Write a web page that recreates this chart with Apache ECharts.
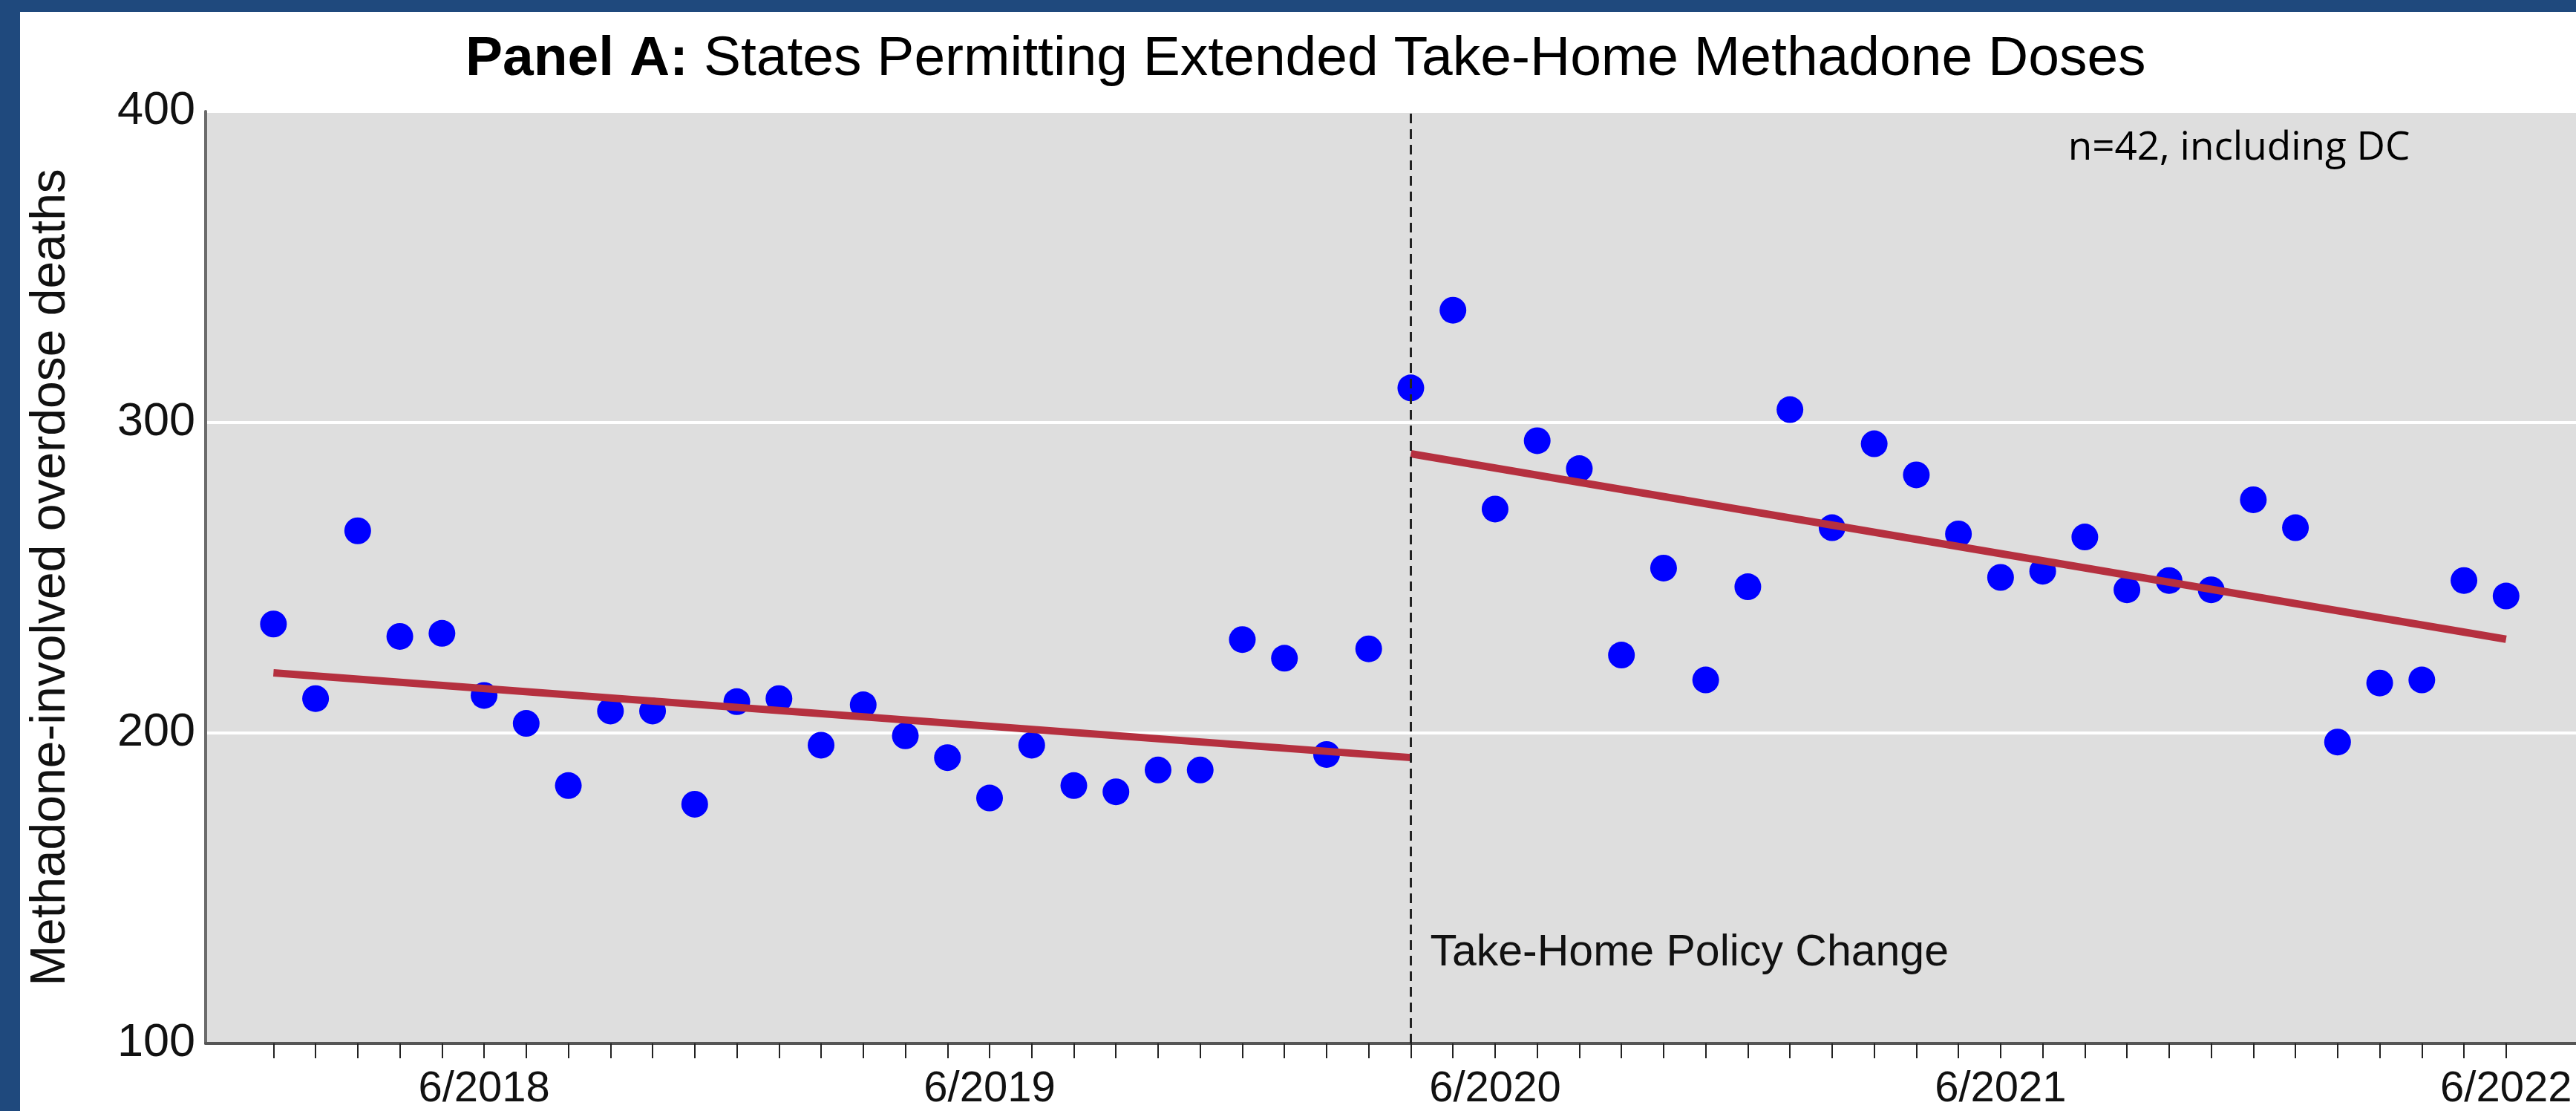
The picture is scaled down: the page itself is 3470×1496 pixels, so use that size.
<!DOCTYPE html>
<html>
<head>
  <meta charset="utf-8">
  <title>Panel A</title>
  <script src="https://cdn.jsdelivr.net/npm/echarts@6/dist/echarts.min.js"></script>
  <style>
    body { margin: 0; background: #1f497d; width: 3470px; height: 1496px; overflow: hidden; }
    #main { position: absolute; left: 27px; top: 16px; width: 3443px; height: 1480px; background: #fff; }
  </style>
</head>
<body>
  <div id="main"></div>
  <script type="text/javascript">
    // monthly observations, 1/2018 .. 6/2022
    var months = [
      '1/2018', '2/2018', '3/2018', '4/2018', '5/2018', '6/2018', '7/2018', '8/2018', '9/2018', '10/2018', '11/2018', '12/2018',
      '1/2019', '2/2019', '3/2019', '4/2019', '5/2019', '6/2019', '7/2019', '8/2019', '9/2019', '10/2019', '11/2019', '12/2019',
      '1/2020', '2/2020', '3/2020', '4/2020', '5/2020', '6/2020', '7/2020', '8/2020', '9/2020', '10/2020', '11/2020', '12/2020',
      '1/2021', '2/2021', '3/2021', '4/2021', '5/2021', '6/2021', '7/2021', '8/2021', '9/2021', '10/2021', '11/2021', '12/2021',
      '1/2022', '2/2022', '3/2022', '4/2022', '5/2022', '6/2022'
    ];
    var deaths = [
      235, 211, 265, 231, 232, 212, 203, 183, 207, 207, 177, 210,
      211, 196, 209, 199, 192, 179, 196, 183, 181, 188, 188, 230,
      224, 193, 227, 311, 336, 272, 294, 285, 225, 253, 217, 247,
      304, 266, 293, 283, 264, 250, 252, 263, 246, 249, 246, 275,
      266, 197, 216, 217, 249, 244
    ];
    var tickLabels = ['6/2018', '6/2019', '6/2020', '6/2021', '6/2022'];
    var policyMonth = '4/2020';
    // fitted trend, value at start and end of each period
    var preTrend = [219.3, 192.0];
    var postTrend = [289.8, 230.1];

    var font = 'Liberation Sans, Arial, sans-serif';
    var iPolicy = months.indexOf(policyMonth);
    var iLast = months.length - 1;

    var myChart = echarts.init(document.getElementById('main'));
    var option = {
      animation: false,
      backgroundColor: '#fff',
      title: {
        left: 600,
        top: 27,
        padding: 0,
        text: '{b|Panel A:}{r| States Permitting Extended Take-Home Methadone Doses}',
        textStyle: {
          rich: {
            b: { fontFamily: font, fontSize: 75, fontWeight: 'bold', color: '#000', lineHeight: 75 },
            r: { fontFamily: font, fontSize: 75, fontWeight: 'normal', color: '#000', lineHeight: 75 }
          }
        }
      },
      grid: {
        left: 250, right: 0, top: 134, bottom: 89,
        show: true, backgroundColor: '#dedede', borderWidth: 0
      },
      xAxis: {
        type: 'value',
        min: -1.61,
        max: 54.66,
        splitLine: { show: false },
        axisLine: { show: true, onZero: false, lineStyle: { color: '#555', width: 4 } },
        axisTick: {
          show: true,
          customValues: months.map(function (m, i) { return i; }),
          length: 20,
          lineStyle: { color: '#222', width: 2 }
        },
        axisLabel: {
          customValues: tickLabels.map(function (t) { return months.indexOf(t); }),
          formatter: function (v) { return months[v]; },
          fontFamily: font, fontSize: 58, color: '#111', margin: 33
        }
      },
      yAxis: {
        type: 'value',
        min: 100,
        max: 400,
        interval: 100,
        name: 'Methadone-involved overdose deaths',
        nameLocation: 'middle',
        nameGap: 175,
        nameTextStyle: { fontFamily: font, fontSize: 66, color: '#111' },
        axisLine: { show: true, onZero: false, lineStyle: { color: '#6b6b6b', width: 4 } },
        axisTick: { show: false },
        splitLine: { lineStyle: { color: '#fff', width: 4 } },
        axisLabel: { fontFamily: font, fontSize: 63, color: '#111', margin: 14 }
      },
      series: [
        {
          type: 'scatter',
          data: deaths.map(function (v, i) { return [i, v]; }),
          symbolSize: 36,
          itemStyle: { color: '#0000ff', opacity: 1 },
          z: 2,
          markLine: {
            silent: true,
            symbol: ['none', 'none'],
            label: { show: false },
            lineStyle: { type: [13, 8], color: '#222', width: 3 },
            data: [{ xAxis: iPolicy }]
          }
        },
        {
          type: 'line',
          data: [[0, preTrend[0]], [iPolicy, preTrend[1]]],
          showSymbol: false,
          lineStyle: { color: '#b5303f', width: 10 },
          z: 3
        },
        {
          type: 'line',
          data: [[iPolicy, postTrend[0]], [iLast, postTrend[1]]],
          showSymbol: false,
          lineStyle: { color: '#b5303f', width: 10 },
          z: 3
        }
      ]
    };
    myChart.setOption(option);

    // annotations placed in data space
    var pPolicy = myChart.convertToPixel({ gridIndex: 0 }, [iPolicy, 129]);
    var pNote = myChart.convertToPixel({ gridIndex: 0 }, [42.6, 388]);
    myChart.setOption({
      graphic: [
        {
          type: 'text', x: pPolicy[0] + 26, y: pPolicy[1], z: 10,
          style: { text: 'Take-Home Policy Change', fontFamily: font, fontSize: 59, fill: '#111', verticalAlign: 'middle' }
        },
        {
          type: 'text', x: pNote[0], y: pNote[1], z: 10,
          style: { text: 'n=42, including DC', fontFamily: 'Open Sans, sans-serif', fontSize: 53, fill: '#000', verticalAlign: 'middle' }
        }
      ]
    });
  </script>
</body>
</html>
